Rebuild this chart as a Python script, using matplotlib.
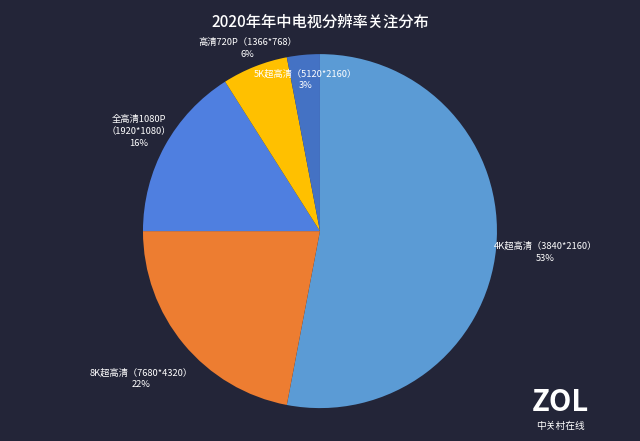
import numpy as np
import matplotlib.pyplot as plt
from matplotlib import font_manager

names = {f.name for f in font_manager.fontManager.ttflist}
cjk = [n for n in ['Noto Sans CJK SC', 'Noto Sans CJK JP', 'Noto Sans CJK TC', 'Noto Sans CJK KR'] if n in names]
if not cjk:
    cjk = [f.name for f in font_manager.fontManager.ttflist if 'CJK' in f.name or 'CJK' in f.fname][:1]
plt.rcParams['font.family'] = cjk + ['DejaVu Sans']

categories = ['4K超高清（3840*2160）', '8K超高清（7680*4320）', '全高清1080P\n（1920*1080）',
              '高清720P（1366*768）', '5K超高清（5120*2160）']
values = [53, 22, 16, 6, 3]
colors = ['#5B9BD5', '#ED7D31', '#4F7FE0', '#FFC000', '#4472C4']
label_dist = [1.28, 1.31, 1.17, 1.11, 0.86]
bg = '#232538'

fig = plt.figure(figsize=(6.4, 4.41), dpi=100, facecolor=bg)
ax = fig.add_axes([0.5 - 0.2766, 0.476 - 0.4014, 0.5531, 0.8027])
ax.set_facecolor(bg)
wedges, _ = ax.pie(values, colors=colors, startangle=90, counterclock=False,
                   wedgeprops=dict(linewidth=0))
for w, cat, v, d in zip(wedges, categories, values, label_dist):
    ang = np.deg2rad((w.theta1 + w.theta2) / 2)
    ax.text(d * np.cos(ang), d * np.sin(ang), f'{cat}\n{v}%', ha='center', va='center',
            color='white', fontsize=6.7, linespacing=1.4)
ax.set_xlim(-1, 1); ax.set_ylim(-1, 1); ax.set_aspect('equal'); ax.axis('off')

fig.text(0.5, 0.95, '2020年年中电视分辨率关注分布', ha='center', va='center', color='white',
         fontsize=11, fontweight='medium')
fig.text(0.875, 0.088, 'ZOL', ha='center', va='center', color='white', fontsize=21, fontweight='heavy')
fig.text(0.875, 0.035, '中关村在线', ha='center', va='center', color='white', fontsize=7)
fig.savefig('out.png', dpi=100, facecolor=bg)
